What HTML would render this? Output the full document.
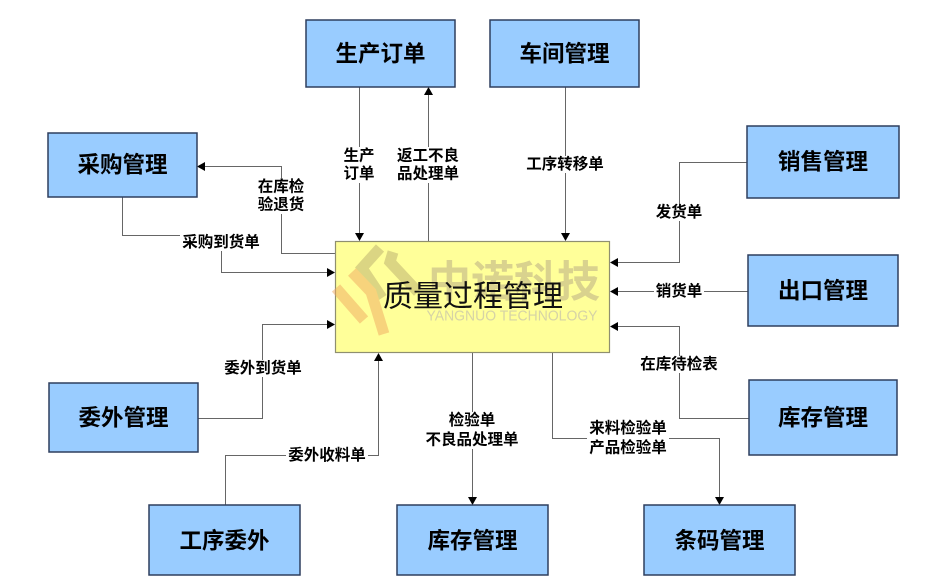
<!DOCTYPE html>
<html>
<head>
<meta charset="utf-8">
<style>
  html,body{margin:0;padding:0;background:#fff;}
  body{width:944px;height:582px;overflow:hidden;}
  svg{display:block;}
  .box{fill:#99ccff;stroke:#2e3e5e;stroke-width:1.5;}
  .bt{font-family:"Liberation Sans","Noto Sans CJK SC",sans-serif;font-weight:bold;font-size:22.5px;fill:#000;}
  .lb{font-family:"Liberation Sans","Noto Sans CJK SC",sans-serif;font-weight:bold;font-size:15.5px;fill:#000;}
  .ln{fill:none;stroke:#666;stroke-width:1;}
  .ar{fill:#000;}
</style>
</head>
<body>
<svg width="944" height="582" viewBox="0 0 944 582" xmlns="http://www.w3.org/2000/svg">
  <rect x="0" y="0" width="944" height="582" fill="#fff"/>

  <path class="ln" d="M359.5,87 V234"/>
  <polygon class="ar" points="355,233 364,233 359.5,241"/>
  <path class="ln" d="M428.5,241 V94"/>
  <polygon class="ar" points="424,95 433,95 428.5,87"/>
  <path class="ln" d="M335,253.5 H281.5 V166.5 H204"/>
  <polygon class="ar" points="205,162 205,171 197,166.5"/>
  <path class="ln" d="M122.5,197 V235.5 H221.5 V272.5 H328"/>
  <polygon class="ar" points="327,268 327,277 335,272.5"/>
  <path class="ln" d="M565.5,87 V234"/>
  <polygon class="ar" points="561,233 570,233 565.5,241"/>
  <path class="ln" d="M747,162.5 H679.5 V262.5 H617"/>
  <polygon class="ar" points="618,258 618,267 610,262.5"/>
  <path class="ln" d="M748,291.5 H617"/>
  <polygon class="ar" points="618,287 618,296 610,291.5"/>
  <path class="ln" d="M749,418.5 H679.5 V326.5 H617"/>
  <polygon class="ar" points="618,322 618,331 610,326.5"/>
  <path class="ln" d="M472.5,353 V498"/>
  <polygon class="ar" points="468,497 477,497 472.5,505"/>
  <path class="ln" d="M552.5,353 V438.5 H719.5 V498"/>
  <polygon class="ar" points="715,497 724,497 719.5,505"/>
  <path class="ln" d="M198,418.5 H262.5 V324.5 H328"/>
  <polygon class="ar" points="327,320 327,329 335,324.5"/>
  <path class="ln" d="M225.5,505 V455.5 H378.5 V360"/>
  <polygon class="ar" points="374,361 383,361 378.5,353"/>

  <rect x="335.5" y="241.5" width="274" height="111" fill="#ffff99" stroke="#8f8f70" stroke-width="1.2"/>
  <g opacity="0.5" stroke-linecap="butt" fill="none">
    <polyline points="380,248 362,268 382,298" stroke="#b9ad6e" stroke-width="11"/>
    <polyline points="393,252 390,262 418,292" stroke="#b9ad6e" stroke-width="11"/>
    <polyline points="352,272 371,292 384,334" stroke="#f0a860" stroke-width="11"/>
    <polyline points="336,288 364,320" stroke="#f0a860" stroke-width="11"/>
  </g>
  <text x="514" y="283" text-anchor="middle" dominant-baseline="central" font-family="'Liberation Sans','Noto Sans CJK SC',sans-serif" font-weight="bold" font-size="43" fill="#d9d28e">中诺科技</text>
  <text x="512" y="316" text-anchor="middle" dominant-baseline="central" font-family="'Liberation Sans',sans-serif" font-size="15" fill="#d6d3a6" textLength="171" lengthAdjust="spacingAndGlyphs">YANGNUO TECHNOLOGY</text>
  <text x="473" y="297" text-anchor="middle" dominant-baseline="central" font-family="'Liberation Sans','Noto Sans CJK SC',sans-serif" font-size="30" fill="#111">质量过程管理</text>

  <rect class="box" x="306" y="20" width="149" height="67"/>
  <text class="bt" x="380.5" y="54" text-anchor="middle" dominant-baseline="central">生产订单</text>
  <rect class="box" x="490" y="20" width="149" height="67"/>
  <text class="bt" x="564.5" y="54" text-anchor="middle" dominant-baseline="central">车间管理</text>
  <rect class="box" x="48" y="133" width="149" height="64"/>
  <text class="bt" x="122.5" y="165" text-anchor="middle" dominant-baseline="central">采购管理</text>
  <rect class="box" x="747" y="126" width="152" height="72"/>
  <text class="bt" x="823" y="162" text-anchor="middle" dominant-baseline="central">销售管理</text>
  <rect class="box" x="748" y="255" width="150" height="71"/>
  <text class="bt" x="823" y="291" text-anchor="middle" dominant-baseline="central">出口管理</text>
  <rect class="box" x="749" y="380" width="148" height="75"/>
  <text class="bt" x="823" y="418" text-anchor="middle" dominant-baseline="central">库存管理</text>
  <rect class="box" x="49" y="383" width="149" height="69"/>
  <text class="bt" x="123.5" y="418" text-anchor="middle" dominant-baseline="central">委外管理</text>
  <rect class="box" x="149" y="505" width="151" height="70"/>
  <text class="bt" x="224.5" y="541" text-anchor="middle" dominant-baseline="central">工序委外</text>
  <rect class="box" x="397" y="505" width="151" height="70"/>
  <text class="bt" x="472.5" y="541" text-anchor="middle" dominant-baseline="central">库存管理</text>
  <rect class="box" x="644" y="505" width="151" height="70"/>
  <text class="bt" x="719.5" y="541" text-anchor="middle" dominant-baseline="central">条码管理</text>

  <rect x="342" y="147" width="34" height="36" fill="#fff"/>
  <text class="lb" x="359" y="156" text-anchor="middle" dominant-baseline="central">生产</text>
  <text class="lb" x="359" y="174" text-anchor="middle" dominant-baseline="central">订单</text>

  <rect x="395" y="147" width="66" height="36" fill="#fff"/>
  <text class="lb" x="428" y="156" text-anchor="middle" dominant-baseline="central">返工不良</text>
  <text class="lb" x="428" y="174" text-anchor="middle" dominant-baseline="central">品处理单</text>

  <rect x="256" y="178" width="50" height="36" fill="#fff"/>
  <text class="lb" x="281" y="187" text-anchor="middle" dominant-baseline="central">在库检</text>
  <text class="lb" x="281" y="205" text-anchor="middle" dominant-baseline="central">验退货</text>

  <rect x="180" y="234" width="82" height="17" fill="#fff"/>
  <text class="lb" x="221" y="242.5" text-anchor="middle" dominant-baseline="central">采购到货单</text>

  <rect x="524" y="156" width="82" height="17" fill="#fff"/>
  <text class="lb" x="565" y="164.5" text-anchor="middle" dominant-baseline="central">工序转移单</text>

  <rect x="654" y="204" width="50" height="17" fill="#fff"/>
  <text class="lb" x="679" y="212.5" text-anchor="middle" dominant-baseline="central">发货单</text>

  <rect x="654" y="283" width="50" height="17" fill="#fff"/>
  <text class="lb" x="679" y="291.5" text-anchor="middle" dominant-baseline="central">销货单</text>

  <rect x="638" y="356" width="82" height="17" fill="#fff"/>
  <text class="lb" x="679" y="364.5" text-anchor="middle" dominant-baseline="central">在库待检表</text>

  <rect x="423" y="412" width="98" height="37" fill="#fff"/>
  <text class="lb" x="472" y="420.5" text-anchor="middle" dominant-baseline="central">检验单</text>
  <text class="lb" x="472" y="440" text-anchor="middle" dominant-baseline="central">不良品处理单</text>

  <rect x="587" y="420" width="82" height="37" fill="#fff"/>
  <text class="lb" x="628" y="428.5" text-anchor="middle" dominant-baseline="central">来料检验单</text>
  <text class="lb" x="628" y="448" text-anchor="middle" dominant-baseline="central">产品检验单</text>

  <rect x="222" y="360" width="82" height="17" fill="#fff"/>
  <text class="lb" x="263" y="368.5" text-anchor="middle" dominant-baseline="central">委外到货单</text>

  <rect x="286" y="447" width="82" height="17" fill="#fff"/>
  <text class="lb" x="327" y="455.5" text-anchor="middle" dominant-baseline="central">委外收料单</text>
</svg>
</body>
</html>
